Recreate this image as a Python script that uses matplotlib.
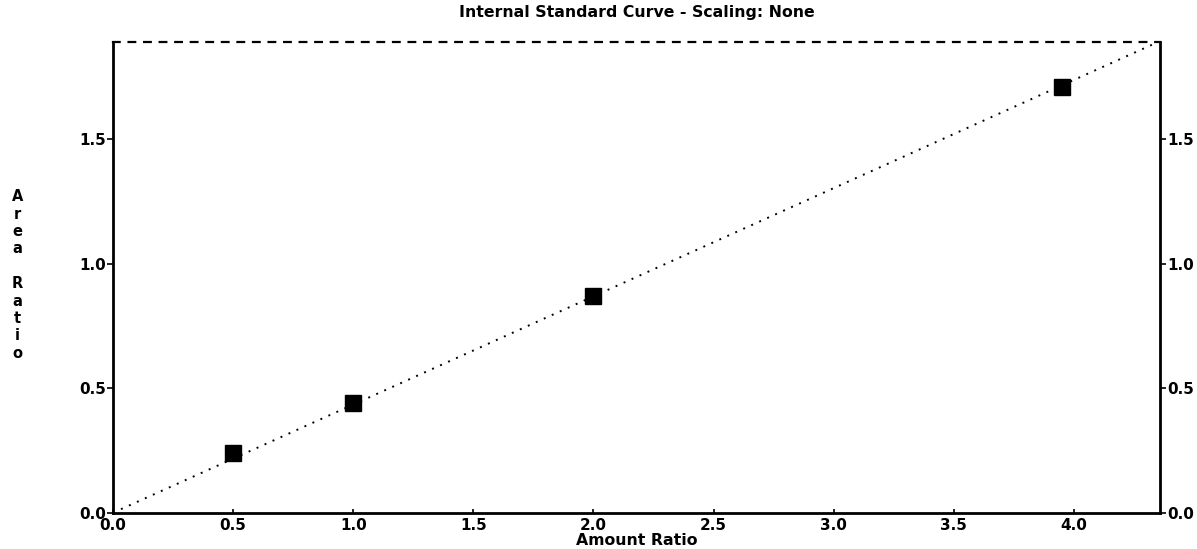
import matplotlib.pyplot as plt
import numpy as np

# calibration standards
amount_ratio = [0.0, 0.5, 1.0, 2.0, 3.95]
area_ratio = [0.0, 0.238, 0.44, 0.87, 1.71]
std_x = amount_ratio[1:]
std_y = area_ratio[1:]

x_ticks = [0.0, 0.5, 1.0, 1.5, 2.0, 2.5, 3.0, 3.5, 4.0]
y_ticks = [0.0, 0.5, 1.0, 1.5]
x_max = 4.36
y_max = 1.89

title = "Internal Standard Curve - Scaling: None"
xlabel = "Amount Ratio"
ylabel = "Area Ratio"

plt.rcParams["font.family"] = ["DejaVu Sans"]
plt.rcParams["font.weight"] = "bold"

fig = plt.figure(figsize=(11.97, 5.49), dpi=100)
ax = fig.add_axes([0.0944, 0.066, 0.875, 0.858])

# least squares through origin for the curve
xs = np.array(amount_ratio)
ys = np.array(area_ratio)
slope = (xs * ys).sum() / (xs * xs).sum()
line_x = np.array([0.0, x_max])
ax.plot(line_x, slope * line_x, color="black", lw=1.4, ls=(0, (1, 3.5)))

ax.plot(std_x, std_y, ls="none", marker="s", ms=11, color="black")

ax.set_xlim(0, x_max)
ax.set_ylim(0, y_max)
ax.set_xticks(x_ticks)
ax.set_xticklabels([f"{v:.1f}" for v in x_ticks])
ax.set_yticks(y_ticks)
ax.set_yticklabels([f"{v:.1f}" for v in y_ticks])
ax.tick_params(axis="x", direction="in", length=3, width=1.2, labelsize=11, pad=4)
ax.tick_params(axis="y", direction="out", length=4, width=1.2, labelsize=11, pad=1)

ax.tick_params(axis="y", which="both", right=True, labelright=True)

for side in ["left", "bottom", "right"]:
    ax.spines[side].set_linewidth(2.0)
ax.spines["top"].set_linewidth(1.6)
ax.spines["top"].set_linestyle((0, (3, 4)))

ax.text(0.5, 1.062, title, transform=ax.transAxes, ha="center", va="center",
        fontsize=11.3, fontweight="bold")
ax.text(0.5, -0.058, xlabel, transform=ax.transAxes, ha="center", va="center",
        fontsize=11.3, fontweight="bold")
fig.text(0.0145, 0.499, "\n".join("A r e a".split() + [""] + "R a t i o".split()),
         ha="center", va="center", fontsize=10.5, fontweight="bold", linespacing=1.2)

fig.savefig("out.png", dpi=100)
